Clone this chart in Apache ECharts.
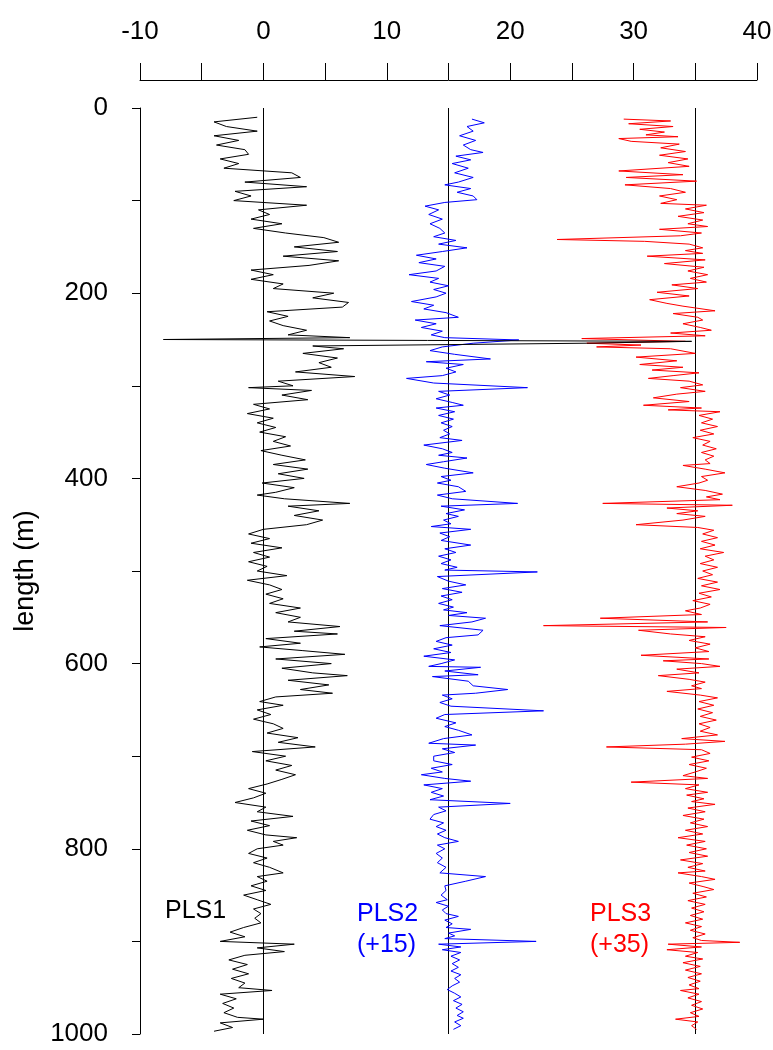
<!DOCTYPE html>
<html>
<head>
<meta charset="utf-8">
<script src="https://cdn.jsdelivr.net/npm/echarts@6/dist/echarts.min.js"></script>
<style>
html, body { margin: 0; padding: 0; background: #ffffff; }
#chart { width: 773px; height: 1050px; }
</style>
</head>
<body>
<div id="chart"></div>
<script>
// Depth (m) along the profile and the three PLS component scores.
const depthPLS1 = [10,15,20,25,30,35,40,45,50,55,60,65,70,75,80,85,90,95,100,105,110,115,120,125,130,135,140,145,150,155,160,165,170,175,180,185,190,195,200,205,210,215,220,225,230,235,240,245,248,250,252,254,257,260,265,270,275,280,285,290,295,300,302,305,310,315,320,325,330,335,340,345,350,355,360,365,370,375,380,385,390,395,400,405,410,415,418,422,427,430,435,440,445,450,455,460,465,470,475,480,485,490,495,500,505,510,515,520,525,530,535,540,545,550,555,560,565,568,573,578,582,586,590,595,600,605,610,613,618,623,628,632,636,641,645,650,655,660,665,670,675,680,685,690,695,700,705,710,715,720,725,730,735,740,745,750,755,760,765,770,775,780,785,788,792,796,800,805,810,815,820,826,830,835,840,845,850,855,860,865,870,875,880,885,890,895,900,903,907,911,915,920,925,930,935,940,945,950,953,957,962,967,972,977,982,984,988,993,997];
const valuesPLS1 = [-0.5,-4.0,-3.0,-0.5,-4.0,-2.0,-3.8,-1.5,-1.2,-3.5,-2.0,-3.2,2.3,3.0,-1.5,3.5,-2.3,-1.0,-2.4,3.5,-0.4,0.5,-1.0,1.5,-0.8,1.8,4.9,6.1,2.5,6.0,1.6,6.1,3.7,-1.0,0.8,-1.0,1.6,0.8,5.7,4.0,6.9,6.4,0.3,2.0,0.5,1.6,3.5,2.0,7.0,-8.1,34.7,26.2,4.0,6.5,3.2,6.0,4.5,5.5,2.6,7.4,1.2,2.4,-1.2,3.9,1.5,3.6,-0.8,0.5,-1.3,0.8,-0.5,1.0,-0.3,1.8,0.8,2.2,-0.2,1.5,3.4,0.8,3.6,1.2,3.3,-0.1,2.5,1.0,-0.5,1.7,7.0,2.0,4.5,2.5,4.8,3.5,0.0,-1.2,0.5,-1.0,1.5,-0.8,0.5,-1.2,0.3,-0.5,1.9,-1.3,0.5,1.5,0.2,1.6,0.5,3.0,1.0,3.0,2.0,6.2,2.5,6.0,0.2,3.0,-0.3,3.2,6.6,1.0,5.5,1.5,4.0,6.8,2.0,5.3,3.0,5.6,1.0,-0.3,1.6,-0.5,0.6,-0.8,0.8,1.6,0.3,2.8,1.2,4.2,-0.9,1.8,0.2,2.3,1.0,2.6,1.5,0.3,-1.2,0.2,-0.8,-2.3,0.2,-0.5,2.4,-1.0,0.5,-1.3,0.2,2.7,0.8,1.6,-0.5,-1.2,0.3,-0.8,0.5,1.6,-0.5,0.3,-1.0,0.2,-1.6,-0.5,0.6,-0.8,-0.2,-0.7,-0.2,-1.6,-2.7,-1.5,-3.5,2.5,-0.5,1.7,-1.5,-2.8,-1.3,-2.5,-1.2,-2.6,-1.5,-2.0,0.7,-3.5,-2.2,-3.3,-2.4,-3.2,-2.1,0.0,-3.5,-2.5,-4.0];

const depthPLS2 = [12,16,20,25,30,35,40,45,48,52,56,60,65,70,75,80,83,87,91,95,99,102,106,110,115,120,125,130,135,139,143,147,151,155,159,163,167,171,176,180,184,188,192,196,200,204,209,213,217,221,226,229,233,237,241,245,248,250.5,254,258,262,266,271,274,277,281,285,289,292,297,302,306,310,314,318,321,324,328,332,336,340,344,348,352,356,359,364,368,372,375,378,382,385,389,394,398,402,405,409,414,418,422,427,430,434,438,441,445,449,452,455,459,463,467,472,476,480,484,488,492,496,499,501,506,511,515,519,523,527,531,535,539,542,545,548,551,555,559,564,569,572,576,580,584,588,592,596,600,603,604,608,612,614,619,624,628,632,634,638,642,646,651,655,659,664,668,672,677,681,686,688,692,696,700,705,709,713,717,720,724,727,731,735,739,743,747,751,755,759,763,768,772,776,780,784,788,792,796,800,805,810,815,820,826,830,835,840,845,850,855,858,862,866,870,873,877,881,885,887,891,894,897,900,903,906,909,912,916,920,924,928,932,936,940,944,948,952,956,960,964,968,972,976,980,983,987,991,995];
const valuesPLS2 = [1.9,2.9,1.5,2.0,0.9,2.2,1.2,1.8,2.8,0.6,1.8,0.3,1.6,0.5,2.0,0.8,-0.3,1.8,0.7,2.0,2.3,-0.3,-1.9,-0.8,-1.6,-0.5,-1.5,-0.7,-0.3,-1.2,0.6,-0.8,1.5,-0.5,-2.6,-1.0,-2.4,-0.3,-1.0,-3.2,-0.8,-1.5,0.0,-1.2,-0.2,-1.0,-3.0,-1.2,-2.0,-0.2,0.8,-2.7,-1.0,-2.2,-0.5,-1.4,-0.3,5.7,2.0,-0.5,-1.5,0.5,3.4,-1.8,1.2,-0.2,0.6,-0.5,-3.4,-1.2,6.4,-0.8,0.1,-1.0,0.3,1.2,-1.0,0.5,-0.8,0.4,-0.6,0.3,-0.4,0.1,-0.7,1.1,-2.0,-0.5,0.3,-0.8,1.5,-0.4,-1.8,-0.3,2.0,-0.6,0.2,-0.9,0.8,1.4,-0.9,0.3,5.6,-0.6,1.3,-0.2,0.8,-0.4,0.2,-1.4,1.8,-0.7,0.1,-0.6,1.8,-0.3,0.6,-0.8,0.2,-0.6,0.7,-0.3,7.2,-0.9,0.0,1.4,-0.5,1.1,-0.6,0.3,-0.8,0.4,-0.4,1.5,0.0,3.0,1.9,-0.7,2.8,2.4,-0.2,-1.0,0.3,-1.2,0.2,-2.0,0.5,-0.6,-1.6,2.6,-0.3,2.4,-1.3,1.6,2.0,4.8,2.2,-0.5,0.3,-0.7,0.2,7.7,-0.3,-1.0,0.6,-0.3,0.8,1.9,-0.4,-1.6,2.2,-0.5,0.5,-1.2,-1.2,0.3,-1.4,-0.5,-2.2,-0.3,1.8,-2.0,-0.5,-1.4,-0.4,-1.5,5.0,-0.8,-0.2,-1.2,-1.5,-0.4,-1.0,-0.2,-0.9,-0.3,0.8,-0.9,-0.3,-1.0,-0.5,-0.9,-0.2,-0.7,3.0,1.4,-0.3,-0.2,-0.6,-0.1,-1.0,0.0,-0.5,-0.2,0.8,-0.3,0.3,-0.2,1.8,0.0,0.5,-0.3,7.1,-0.8,1.0,-0.5,1.0,0.2,0.9,0.3,0.8,0.2,1.0,0.5,0.9,0.3,-0.1,0.5,1.0,0.4,1.1,0.6,1.2,0.7,1.2,0.5,1.0,0.4];

const depthPLS3 = [12,14,17,20,23,26,29,31,33,36,39,43,47,51,55,59,63,68,72,75,79,83,87,91,95,99,103,105,109,113,117,121,125,128,131,135,138,142,144,147,151,154,157,160,164,168,172,176,180,184,188,191,195,199,203,207,211,214,219,222,226,229,233,237,240,243,246,249,252,254,256,258,260,265,269,273,277,280,283,286,289,292,295,299,302,306,309,313,317,321,324,326,328,332,336,340,344,348,352,356,360,364,368,372,376,380,384,386,390,394,398,402,405,409,413,417,420,423,427,429,432,435,438,441,445,450,453,456,460,464,468,472,476,480,484,488,492,496,500,504,508,512,516,520,524,528,532,536,540,543,547,551,555,559,561,564,568,571,575,579,583,587,591,595,597,600,603,606,610,613,617,620,624,627,630,634,637,641,645,649,653,657,661,665,669,673,677,681,684,687,690,693,697,701,705,709,713,717,721,724,728,731,735,739,742,746,749,752,756,760,764,768,772,776,780,784,788,792,796,800,804,808,812,816,820,824,826,830,833,837,841,844,848,852,856,860,864,868,872,876,880,884,888,892,896,899,901,903,906,909,912,916,919,923,927,931,935,939,943,947,951,953,957,961,965,969,973,977,981,984,987,991,995];
const valuesPLS3 = [-5.8,-2.0,-5.4,-1.8,-4.5,-2.5,-4.0,-1.4,-6.2,-5.2,-1.3,-2.8,-0.8,-2.9,-0.6,-2.2,-0.5,-6.2,-1.0,-5.6,0.1,-5.7,-2.0,-0.8,-2.9,-1.5,-2.8,0.9,-0.8,0.7,-1.4,0.6,-0.6,1.0,-2.9,0.5,-1.2,-11.2,-4.1,-0.5,0.6,-0.8,0.6,-3.9,0.8,-2.5,0.7,-0.6,1.0,-0.4,0.9,-1.9,0.2,-3.1,-0.5,-3.7,-2.3,-1.0,1.6,-1.8,0.2,0.6,-1.0,0.4,1.3,-2.0,0.8,-9.2,-0.8,-8.8,-4.4,-8.0,-2.0,0.0,-4.8,-1.5,-4.5,-1.0,-3.5,0.3,-1.8,-3.8,-0.5,0.6,-1.2,0.8,-1.5,-3.4,-0.5,-4.2,0.5,-2.2,2.0,0.3,1.4,0.5,1.8,0.4,1.5,-0.2,1.2,0.6,1.7,0.5,1.5,0.8,1.2,-1.0,0.8,2.4,0.5,1.0,0.3,-1.5,0.8,2.2,0.9,2.0,-7.5,3.0,-2.3,0.2,-1.5,0.8,-1.0,-4.8,0.2,1.5,0.6,1.8,0.5,1.6,0.4,2.3,0.8,1.5,0.4,1.8,0.6,1.4,0.2,1.8,0.5,2.0,0.3,1.3,-0.2,1.2,0.4,-0.8,0.5,-7.7,1.0,-12.3,2.5,-4.6,-2.0,0.8,-0.5,1.2,0.0,1.1,-4.4,1.1,-2.6,0.5,2.0,-1.5,0.3,-3.0,-0.5,0.8,-0.3,0.5,-2.3,0.4,1.8,0.3,1.5,0.2,1.4,0.4,1.7,0.3,1.2,0.4,1.8,-1.1,2.4,-0.8,-7.2,0.5,1.2,-0.3,1.1,-0.5,0.9,0.0,-1.0,1.0,-5.2,0.3,-0.8,1.0,-0.7,0.7,-0.3,1.6,-0.6,0.8,-1.0,0.7,-0.4,1.0,-0.8,0.6,-1.4,0.8,-0.7,0.9,-0.5,1.0,-1.2,0.6,-0.6,0.8,-1.4,0.5,1.6,-0.5,0.7,1.5,-0.2,0.9,-0.6,0.8,-0.3,0.7,-0.4,0.6,-0.8,0.5,-0.4,0.8,-0.2,0.5,3.6,-2.2,0.5,-2.3,0.2,-0.8,0.6,-1.0,0.4,-0.8,0.5,-0.6,0.4,-0.5,0.3,-1.2,0.3,-0.6,0.5,-0.3,0.6,-0.4,0.3,-1.6,0.2,-0.3,0.1];

// Horizontal shift applied to each component when plotted.
const offsetPLS1 = 0;
const offsetPLS2 = 15;
const offsetPLS3 = 35;

const xMin = -10, xMax = 40, xStep = 5;
const yMin = 0, yMax = 1000, yStep = 100;

const FONT = 'Liberation Sans, Arial, sans-serif';

function toPoints(depths, values, offset) {
  return depths.map((d, i) => [values[i] + offset, d]);
}

function trace(name, depths, values, offset, color) {
  return {
    name: name,
    type: 'line',
    data: toPoints(depths, values, offset),
    showSymbol: false,
    symbol: 'none',
    smooth: false,
    lineStyle: { color: color, width: 1 },
    z: name === 'PLS1' ? 4 : 3,
    markLine: {
      silent: true,
      symbol: 'none',
      label: { show: false },
      lineStyle: { color: '#000000', width: 1, type: 'solid' },
      data: [{ xAxis: offset }],
      z: 1
    }
  };
}

const chart = echarts.init(document.getElementById('chart'), null, { renderer: 'canvas' });
chart.setOption({
  animation: false,
  backgroundColor: '#ffffff',
  grid: { left: 140, right: 16, top: 108, bottom: 16, containLabel: false, outerBoundsMode: 'none' },
  xAxis: {
    type: 'value',
    position: 'top',
    offset: 28,
    min: xMin, max: xMax, interval: xStep,
    axisLine: { show: true, onZero: false, lineStyle: { color: '#000000', width: 1 } },
    axisTick: { show: true, length: 17, lineStyle: { color: '#000000', width: 1 } },
    axisLabel: {
      margin: 35, color: '#000000', fontSize: 26, fontFamily: FONT,
      formatter: v => (v % 10 === 0 ? String(v) : '')
    },
    splitLine: { show: false }
  },
  yAxis: {
    type: 'value',
    inverse: true,
    min: yMin, max: yMax, interval: yStep,
    name: 'length (m)',
    nameLocation: 'middle',
    nameGap: 100,
    nameTextStyle: { color: '#000000', fontSize: 27, fontFamily: FONT },
    axisLine: { show: true, onZero: false, lineStyle: { color: '#000000', width: 1 } },
    axisTick: { show: true, length: 8, lineStyle: { color: '#000000', width: 1 } },
    axisLabel: {
      margin: 32, color: '#000000', fontSize: 26, fontFamily: FONT,
      formatter: v => (v % 200 === 0 ? String(v) : '')
    },
    splitLine: { show: false }
  },
  graphic: [
    { type: 'text', left: 165, top: 899, style: { text: 'PLS1', fill: '#000000', fontSize: 25, fontFamily: FONT } },
    { type: 'text', left: 357, top: 899, style: { text: 'PLS2\n(+15)', fill: '#0000ff', fontSize: 25, fontFamily: FONT, lineHeight: 31 } },
    { type: 'text', left: 590, top: 899, style: { text: 'PLS3\n(+35)', fill: '#ff0000', fontSize: 25, fontFamily: FONT, lineHeight: 31 } }
  ],
  series: [
    trace('PLS3', depthPLS3, valuesPLS3, offsetPLS3, '#ff0000'),
    trace('PLS2', depthPLS2, valuesPLS2, offsetPLS2, '#0000ff'),
    trace('PLS1', depthPLS1, valuesPLS1, offsetPLS1, '#000000')
  ]
});
</script>
</body>
</html>
